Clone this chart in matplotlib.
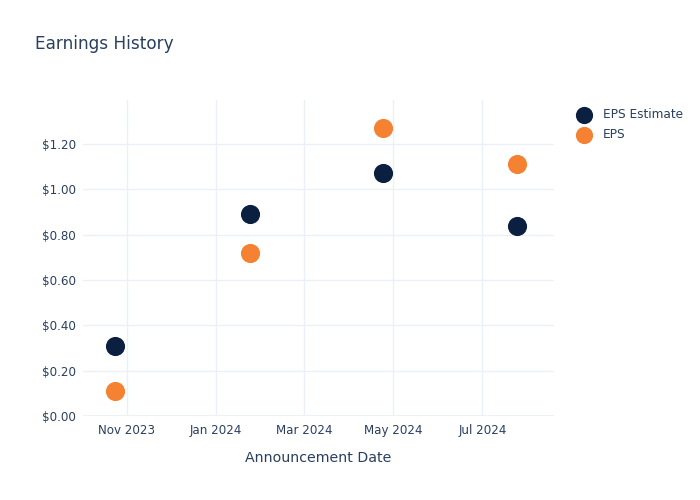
import matplotlib
matplotlib.use("Agg")
import matplotlib.pyplot as plt
import matplotlib.dates as mdates
from matplotlib.ticker import FuncFormatter
import datetime as dt

dates = ["2023-10-24", "2024-01-24", "2024-04-24", "2024-07-25"]
eps_estimate = [0.31, 0.89, 1.07, 0.84]
eps_actual = [0.11, 0.72, 1.27, 1.11]
y_ticks = [0.0, 0.2, 0.4, 0.6, 0.8, 1.0, 1.2]
x_ticks = ["2023-11-01", "2024-01-01", "2024-03-01", "2024-05-01", "2024-07-01"]

TEXT = "#2a3f5f"
GRID = "#ebf0f8"
NAVY = "#0b1f40"
ORANGE = "#f58233"

plt.rcParams['font.family'] = ['DejaVu Sans']

x = [dt.datetime.strptime(d, "%Y-%m-%d") for d in dates]
xt = [dt.datetime.strptime(d, "%Y-%m-%d") for d in x_ticks]

fig = plt.figure(figsize=(7, 5), dpi=100)
ax = fig.add_axes([83/700, 84/500, 471/700, 316/500])

ax.scatter(x, eps_estimate, s=190, color=NAVY, zorder=3, label="EPS Estimate", linewidths=0)
ax.scatter(x, eps_actual, s=190, color=ORANGE, zorder=3, label="EPS", linewidths=0)

ax.set_xlim(dt.datetime(2023, 10, 2), dt.datetime(2024, 8, 19))
ax.set_ylim(0, 1.394)
ax.set_yticks(y_ticks)
ax.yaxis.set_major_formatter(FuncFormatter(lambda v, p: f"${v:.2f}"))
ax.set_xticks(xt)
ax.xaxis.set_major_formatter(mdates.DateFormatter("%b %Y"))

for s in ax.spines.values():
    s.set_visible(False)
ax.grid(True, color=GRID, linewidth=1, zorder=0)
ax.axhline(0, color=GRID, linewidth=2, zorder=1)
ax.tick_params(length=0, labelsize=8.6, colors=TEXT, pad=6)
ax.tick_params(axis='y', pad=5)
ax.set_xlabel("Announcement Date", fontsize=10.2, color=TEXT, labelpad=10)

fig.text(35/700, 1 - 44/500, "Earnings History", fontsize=12.2, color=TEXT, va="center", ha="left")

leg = fig.legend(loc="upper left", bbox_to_anchor=(567/700, 1 - 103/500), frameon=False,
                 fontsize=8.7, labelcolor=TEXT, handletextpad=0.55, labelspacing=0.62,
                 borderaxespad=0, markerscale=0.9)

fig.savefig("out.png", dpi=100)
